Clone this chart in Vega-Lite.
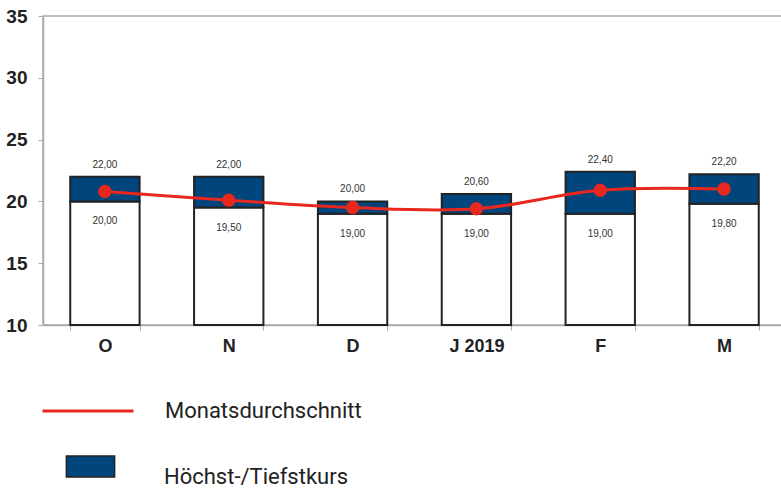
{
  "$schema": "https://vega.github.io/schema/vega-lite/v6.json",
  "autosize": "none",
  "padding": {"left": 43, "top": 16, "right": 0, "bottom": 167},
  "width": 743,
  "height": 309,
  "config": {
    "locale": {"number": {"decimal": ",", "thousands": ".", "grouping": [3], "currency": ["", " €"]}},
    "view": {"stroke": "#aaaaaa", "strokeWidth": 1.5},
    "font": "Liberation Sans"
  },
  "data": {
    "values": [
      {"monat": "O", "tief": 20.0, "hoch": 22.0, "schnitt": 20.8},
      {"monat": "N", "tief": 19.5, "hoch": 22.0, "schnitt": 20.1},
      {"monat": "D", "tief": 19.0, "hoch": 20.0, "schnitt": 19.5},
      {"monat": "J 2019", "tief": 19.0, "hoch": 20.6, "schnitt": 19.4},
      {"monat": "F", "tief": 19.0, "hoch": 22.4, "schnitt": 20.9},
      {"monat": "M", "tief": 19.8, "hoch": 22.2, "schnitt": 21.0}
    ]
  },
  "encoding": {
    "x": {
      "field": "monat", "type": "nominal", "sort": null, "title": null,
      "scale": {"paddingInner": 0.44, "paddingOuter": 0.22},
      "axis": {
        "labelAngle": 0, "labelFontSize": 18, "labelFontWeight": "bold", "labelColor": "#222222",
        "labelPadding": 7, "tickBand": "extent", "tickSize": 5, "tickColor": "#aaaaaa",
        "domainColor": "#aaaaaa", "domainWidth": 1.5
      }
    }
  },
  "layer": [
    {
      "mark": {"type": "bar", "fill": "white", "stroke": "#222222", "strokeWidth": 2},
      "encoding": {
        "y": {
          "field": "tief", "type": "quantitative", "title": null,
          "scale": {"domain": [10, 35], "zero": false, "nice": false},
          "axis": {
            "values": [10, 15, 20, 25, 30, 35], "grid": false, "labelFontSize": 19, "labelFontWeight": "bold",
            "labelColor": "#222222", "labelPadding": 11, "tickSize": 5, "tickColor": "#aaaaaa",
            "domainColor": "#aaaaaa", "domainWidth": 1.5
          }
        },
        "y2": {"datum": 10}
      }
    },
    {
      "mark": {"type": "bar", "stroke": "#222222", "strokeWidth": 2},
      "encoding": {
        "y": {"field": "tief", "type": "quantitative"},
        "y2": {"field": "hoch"},
        "fill": {
          "datum": "Höchst-/Tiefstkurs", "type": "nominal",
          "scale": {"range": ["#00457c"]},
          "legend": {
            "title": null, "orient": "none", "legendX": 1, "legendY": 404,
            "symbolType": "M-0.53,-0.23H0.53V0.23H-0.53Z", "symbolSize": 8281,
            "symbolStrokeColor": "#222222", "symbolStrokeWidth": 1.5, "symbolOpacity": 1,
            "labelFont": "Roboto", "labelFontSize": 22, "labelColor": "#222222",
            "labelOffset": 27, "labelBaseline": "top", "labelLimit": 400
          }
        }
      }
    },
    {
      "mark": {"type": "text", "fontSize": 10, "color": "#333333", "dy": -12},
      "encoding": {
        "y": {"field": "hoch", "type": "quantitative"},
        "text": {"field": "hoch", "type": "quantitative", "format": ".2f"}
      }
    },
    {
      "mark": {"type": "text", "fontSize": 10, "color": "#333333", "dy": 20},
      "encoding": {
        "y": {"field": "tief", "type": "quantitative"},
        "text": {"field": "tief", "type": "quantitative", "format": ".2f"}
      }
    },
    {
      "mark": {"type": "line", "interpolate": "catmull-rom", "strokeWidth": 3},
      "encoding": {
        "y": {"field": "schnitt", "type": "quantitative"},
        "stroke": {
          "datum": "Monatsdurchschnitt", "type": "nominal",
          "scale": {"range": ["#e8281e"]},
          "legend": {
            "title": null, "orient": "none", "legendX": -2, "legendY": 348,
            "symbolType": "M-1,0H1", "symbolSize": 8281, "symbolStrokeWidth": 3,
            "labelFont": "Roboto", "labelFontSize": 22, "labelColor": "#222222",
            "labelOffset": 30, "labelBaseline": "middle", "labelLimit": 400
          }
        }
      }
    },
    {
      "mark": {"type": "point", "filled": true, "color": "#e8281e", "size": 180, "opacity": 1},
      "encoding": {
        "y": {"field": "schnitt", "type": "quantitative"}
      }
    }
  ]
}
